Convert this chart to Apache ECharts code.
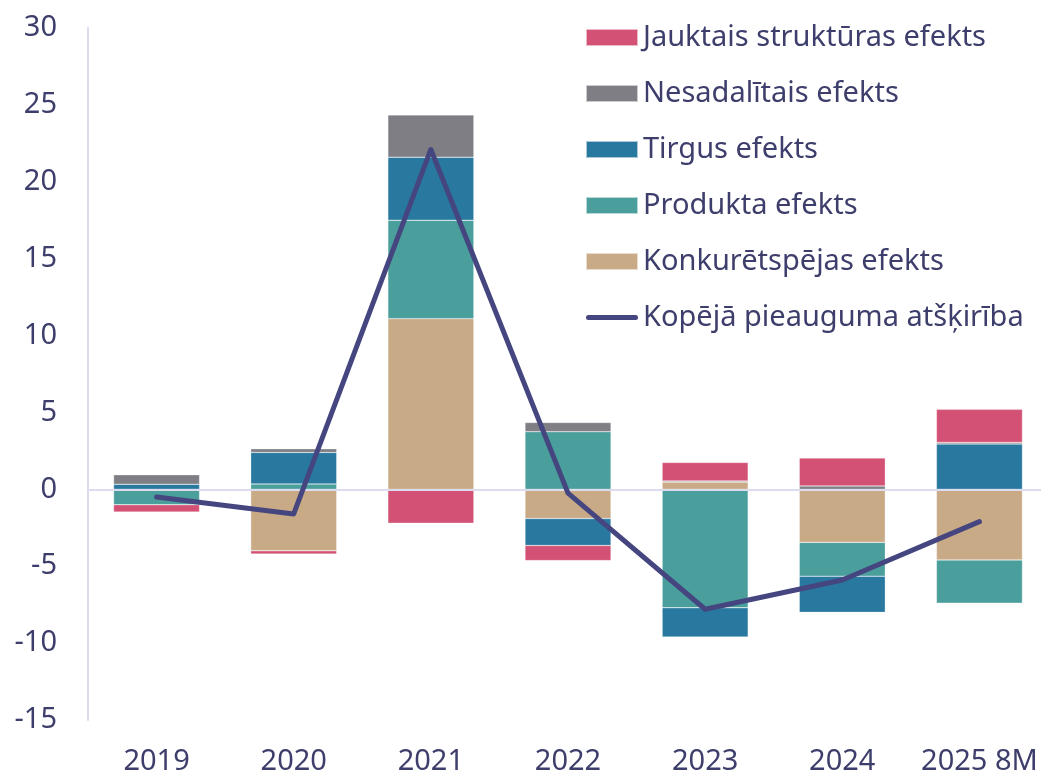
<!DOCTYPE html>
<html>
<head>
<meta charset="utf-8">
<script src="https://cdn.jsdelivr.net/npm/echarts@6/dist/echarts.min.js"></script>
<style>
  html, body { margin: 0; padding: 0; background: #fff; overflow: hidden; }
  /* the last category band runs a few px past the right edge in the original */
  #chart { width: 1049px; height: 777px; }
</style>
</head>
<body>
<div id="chart"></div>
<script>
// categories and effect values (pp)
const years = ['2019', '2020', '2021', '2022', '2023', '2024', '2025 8M'];

const konkuretspeja = [0, -4.0, 11.1, -1.9, 0.47, -3.45, -4.6];
const produkts = [-1.0, 0.35, 6.4, 3.75, -7.7, -2.2, -2.8];
const tirgus = [0.33, 2.05, 4.1, -1.75, -1.9, -2.35, 2.95];
const nesadalitais = [0.62, 0.24, 2.75, 0.6, 0.08, 0.22, 0.1];
const jauktais = [-0.48, -0.21, -2.2, -0.98, 1.2, 1.82, 2.15];
const kopeja = [-0.5, -1.6, 22.1, -0.25, -7.8, -5.9, -2.1];

const textColor = '#3d3e6b';
const axisColor = '#dcdcee';
const lineColor = '#45467f';
const font = 'Noto Sans';

// thin rounded line for the legend, M0,0 / M0,17 only stretch the box
const lineIcon = 'path://M0,0 M0,17 M2.5,6 H49.5 A2.5,2.5 0 0 1 49.5,11 H2.5 A2.5,2.5 0 0 1 2.5,6 Z';

const chart = echarts.init(document.getElementById('chart'));

// stacked bar helper, samesign stacking keeps positives and negatives apart
function barSeries(name, data, color) {
  return {
    name: name,
    type: 'bar',
    stack: 'efekti',
    data: data,
    barWidth: 86,
    itemStyle: { color: color, borderColor: 'rgba(255,255,255,0.6)', borderWidth: 0.5 }
  };
}

chart.setOption({
  animation: false,
  textStyle: { fontFamily: font },
  grid: { left: 88, right: 1, top: 28, bottom: 57, containLabel: false },
  legend: {
    orient: 'vertical',
    left: 580,
    top: 18,
    itemWidth: 52,
    itemHeight: 17,
    itemGap: 27,
    textStyle: { color: textColor, fontSize: 29, fontFamily: font },
    data: [
      { name: 'Jauktais struktūras efekts', icon: 'rect' },
      { name: 'Nesadalītais efekts', icon: 'rect' },
      { name: 'Tirgus efekts', icon: 'rect' },
      { name: 'Produkta efekts', icon: 'rect' },
      { name: 'Konkurētspējas efekts', icon: 'rect' },
      { name: 'Kopējā pieauguma atšķirība', icon: lineIcon, itemStyle: { color: lineColor } }
    ]
  },
  xAxis: {
    type: 'category',
    data: years,
    axisLine: { show: false },
    axisTick: { show: false },
    axisLabel: { color: textColor, fontSize: 29, margin: 27, interval: 0, fontFamily: font }
  },
  yAxis: {
    type: 'value',
    min: -15,
    max: 30,
    interval: 5,
    splitLine: { show: false },
    axisTick: { show: false },
    axisLine: { show: true, lineStyle: { color: axisColor, width: 2 } },
    axisLabel: { color: textColor, fontSize: 29, margin: 31, fontFamily: font }
  },
  series: [
    Object.assign(barSeries('Konkurētspējas efekts', konkuretspeja, '#c9aa87'), {
      markLine: {
        silent: true,
        symbol: 'none',
        label: { show: false },
        lineStyle: { color: axisColor, width: 2, type: 'solid' },
        data: [{ yAxis: 0 }]
      }
    }),
    barSeries('Produkta efekts', produkts, '#4a9e9c'),
    barSeries('Tirgus efekts', tirgus, '#2878a0'),
    barSeries('Nesadalītais efekts', nesadalitais, '#7f7e85'),
    barSeries('Jauktais struktūras efekts', jauktais, '#d35174'),
    {
      name: 'Kopējā pieauguma atšķirība',
      type: 'line',
      data: kopeja,
      symbol: 'none',
      z: 10,
      lineStyle: { color: lineColor, width: 5, cap: 'round', join: 'round' },
      itemStyle: { color: lineColor }
    }
  ]
});
</script>
</body>
</html>
